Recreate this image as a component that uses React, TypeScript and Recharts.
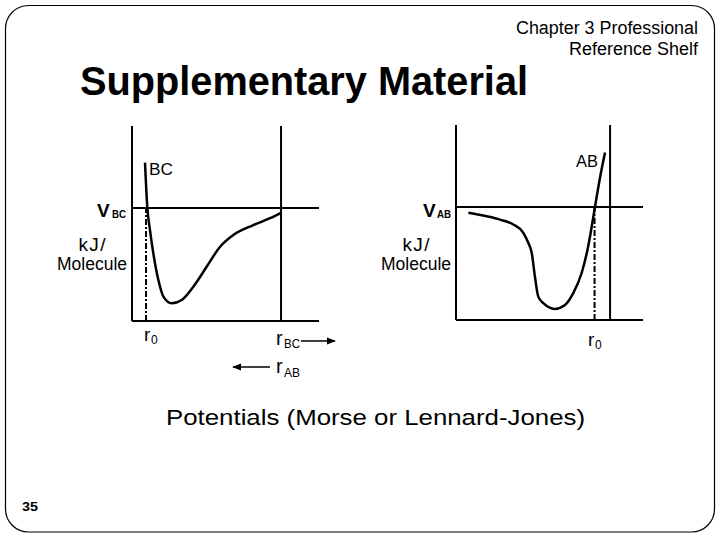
import React from "react";
import { LineChart, Line, XAxis, YAxis, ReferenceLine } from "recharts";

// Left panel: B–C potential (x: r_BC, y: V_BC), arbitrary units 0..100
const bcR = [6.95, 8.2, 9.6, 11.4, 14.1, 16.8, 21.2, 26.6, 32.8, 39.9, 47.1, 54.2, 64.9, 73.8, 79.7];
const bcV = [81.2, 58.1, 46.7, 34.7, 21.0, 12.5, 9.1, 10.8, 17.6, 27.8, 38.1, 44.1, 49.2, 52.7, 55.5];
const bcLevel = 57.9;
const bcEdge = 79.7;
const bcR0 = 7.5;

// Right panel: A–B potential
const abR = [6.6, 16.4, 23.5, 30.6, 36.0, 38.7, 40.5, 42.2, 44.0, 46.7, 52.9, 58.3, 62.7, 67.2, 70.7, 74.3, 77.0, 79.7];
const abV = [55.0, 53.2, 51.5, 49.0, 44.7, 39.5, 34.4, 22.3, 12.0, 8.6, 5.7, 7.7, 13.8, 24.1, 37.8, 57.9, 73.0, 85.9];
const abLevel = 58.0;
const abEdge = 82.4;
const abR0 = 74.1;

const bcData = bcR.map((r, i) => ({ r, v: bcV[i] }));
const abData = abR.map((r, i) => ({ r, v: abV[i] }));

const FONT = '"Liberation Sans", Arial, sans-serif';
const PAD = 5;

function Panel({ data, level, edge, r0, left, top }: any) {
  const w = 187;
  const h = 195;
  return (
    <div style={{ position: "absolute", left: left - PAD, top: top - PAD }}>
      <LineChart
        width={w + 2 * PAD}
        height={h + 2 * PAD}
        data={data}
        margin={{ top: PAD, right: PAD, bottom: PAD, left: PAD }}
      >
        <XAxis
          type="number"
          dataKey="r"
          domain={[0, 100]}
          height={0}
          tick={false}
          tickLine={false}
          axisLine={false}
        />
        <YAxis
          type="number"
          domain={[0, 100]}
          width={0}
          tick={false}
          tickLine={false}
          axisLine={false}
        />
        <ReferenceLine x={0} stroke="#000" strokeWidth={2} />
        <ReferenceLine y={0} stroke="#000" strokeWidth={2} />
        <ReferenceLine y={level} stroke="#000" strokeWidth={2} />
        <ReferenceLine x={edge} stroke="#000" strokeWidth={2} />
        <ReferenceLine
          segment={[
            { x: r0, y: 0 },
            { x: r0, y: level },
          ]}
          stroke="#000"
          strokeWidth={2}
          strokeDasharray="6 2 2 2"
        />
        <Line
          type="monotone"
          dataKey="v"
          stroke="#000"
          strokeWidth={2.5}
          dot={false}
          isAnimationActive={false}
        />
      </LineChart>
    </div>
  );
}

function T({ x, y, fs, bold, anchor, len, adj, children }: any) {
  return (
    <text
      x={x}
      y={y}
      fontSize={fs}
      fontWeight={bold ? "bold" : "normal"}
      textAnchor={anchor || "start"}
      textLength={len}
      lengthAdjust={len ? adj || "spacingAndGlyphs" : undefined}
      fontFamily={FONT}
      fill="#000"
    >
      {children}
    </text>
  );
}

export default function App() {
  return (
    <div
      style={{
        position: "absolute",
        left: 0,
        top: 0,
        width: 720,
        height: 540,
        background: "#fff",
        fontFamily: FONT,
      }}
    >
      <Panel data={bcData} level={bcLevel} edge={bcEdge} r0={bcR0} left={132} top={126} />
      <Panel data={abData} level={abLevel} edge={abEdge} r0={abR0} left={456} top={125} />
      <svg
        width={720}
        height={540}
        style={{ position: "absolute", left: 0, top: 0, pointerEvents: "none" }}
      >
        <defs>
          <marker id="ah" viewBox="0 0 10 10" refX="9" refY="5" markerWidth="6" markerHeight="6" orient="auto">
            <path d="M0,1 L10,5 L0,9 z" fill="#000" />
          </marker>
        </defs>
        <rect x={5.5} y={5.5} width={709} height={526.5} rx={23} ry={23} fill="none" stroke="#000" strokeWidth={1.2} />
        <T x={698} y={34} fs={18} anchor="end" len={182}>Chapter 3 Professional</T>
        <T x={698} y={55} fs={18} anchor="end" len={129}>Reference Shelf</T>
        <T x={80} y={95} fs={40} bold len={448}>Supplementary Material</T>

        <T x={149} y={175} fs={16} len={24}>BC</T>
        <T x={576} y={167} fs={16} len={22}>AB</T>

        <T x={97} y={217} fs={19} bold>V</T>
        <T x={112} y={218} fs={11} bold len={14}>BC</T>
        <T x={92} y={251} fs={19} anchor="middle" len={27} adj="spacing">kJ/</T>
        <T x={57} y={270} fs={18} len={70}>Molecule</T>

        <T x={423} y={217} fs={19} bold>V</T>
        <T x={437} y={218} fs={11} bold len={14}>AB</T>
        <T x={416} y={251} fs={19} anchor="middle" len={27} adj="spacing">kJ/</T>
        <T x={381} y={270} fs={18} len={70}>Molecule</T>

        <T x={144} y={341} fs={19}>r</T>
        <T x={151} y={344} fs={12}>0</T>

        <T x={276} y={345} fs={20}>r</T>
        <T x={284} y={348} fs={12} len={16}>BC</T>
        <line x1={301} y1={341} x2={335} y2={341} stroke="#000" strokeWidth={1.5} markerEnd="url(#ah)" />

        <T x={276} y={373} fs={20}>r</T>
        <T x={284} y={377} fs={12} len={16}>AB</T>
        <line x1={270} y1={367} x2={233} y2={367} stroke="#000" strokeWidth={1.5} markerEnd="url(#ah)" />

        <T x={588} y={346} fs={19}>r</T>
        <T x={595} y={349} fs={12}>0</T>

        <T x={166} y={425} fs={22} len={419}>Potentials (Morse or Lennard-Jones)</T>
        <T x={22} y={511} fs={13} bold len={16}>35</T>
      </svg>
    </div>
  );
}
